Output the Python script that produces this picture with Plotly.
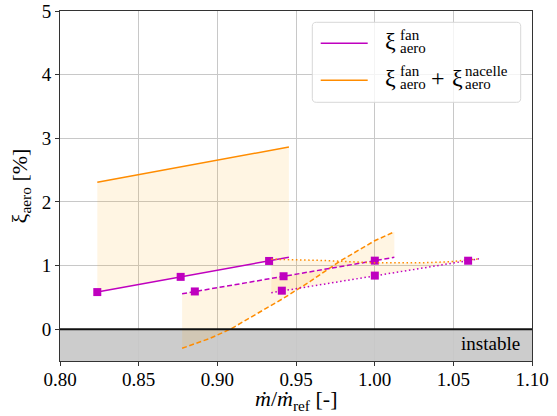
import plotly.graph_objects as go

# ---------------- data ----------------
# operating line 1 (solid)
op1_meas_x = [0.8237, 0.8767, 0.9329]
op1_meas_y = [0.583, 0.822, 1.072]
op1_fan_x = [0.8237, 0.9455]
op1_fan_y = [0.585, 1.130]
op1_tot_x = [0.8237, 0.9455]
op1_tot_y = [2.31, 2.862]

# operating line 2 (dashed)
op2_meas_x = [0.8857, 0.9421, 1.0001]
op2_meas_y = [0.593, 0.832, 1.077]
op2_fan_x = [0.8776, 1.0125]
op2_fan_y = [0.557, 1.129]
op2_tot_x = [0.8776, 0.8953, 0.909, 0.927, 0.9423, 0.959, 0.978, 1.0, 1.0125]
op2_tot_y = [-0.30, -0.145, 0.01, 0.27, 0.49, 0.75, 1.07, 1.39, 1.53]

# operating line 3 (dotted)
op3_meas_x = [0.941, 1.0001, 1.0594]
op3_meas_y = [0.605, 0.842, 1.076]
op3_fan_x = [0.9343, 1.0663]
op3_fan_y = [0.573, 1.105]
op3_tot_x = [0.9343, 0.9694, 1.0, 1.0287, 1.0477, 1.0663]
op3_tot_y = [1.10, 1.078, 1.042, 1.042, 1.06, 1.105]

x_ticks = [0.80, 0.85, 0.90, 0.95, 1.00, 1.05, 1.10]
y_ticks = [0, 1, 2, 3, 4, 5]

legend_fan = ("ξ", "fan", "aero")
legend_nac = ("ξ", "nacelle", "aero")
instable_label = "instable"
x_title = "<i>ṁ</i>/<i>ṁ</i><sub>ref</sub> [-]"
y_title = "ξ<sub>aero</sub> [%]"

# ---------------- style ----------------
MAG = "#bf00bf"
ORA = "#ff8c00"
FILL = "rgba(255,165,0,0.11)"
FONT = "Liberation Serif, Times New Roman, Tinos, DejaVu Serif, serif"
W, H = 557, 416
ML, MR, MT, MB = 60, 25, 11, 55
PW, PH = W - ML - MR, H - MT - MB


def px(x):
    return (x - ML) / PW


def py(y):
    return (H - MB - y) / PH


fig = go.Figure()

ops = [
    (op1_meas_x, op1_meas_y, op1_fan_x, op1_fan_y, op1_tot_x, op1_tot_y, "solid"),
    (op2_meas_x, op2_meas_y, op2_fan_x, op2_fan_y, op2_tot_x, op2_tot_y, "5px,2.6px"),
    (op3_meas_x, op3_meas_y, op3_fan_x, op3_fan_y, op3_tot_x, op3_tot_y, "1.5px,2.6px"),
]

# fills
for mx, my, fx, fy, tx, ty, dash in ops:
    fig.add_trace(go.Scatter(
        x=list(fx) + list(tx)[::-1], y=list(fy) + list(ty)[::-1],
        fill="toself", fillcolor=FILL, mode="none",
        showlegend=False, hoverinfo="skip"))

for mx, my, fx, fy, tx, ty, dash in ops:
    fig.add_trace(go.Scatter(x=tx, y=ty, mode="lines",
                             line=dict(color=ORA, width=1.5, dash=dash),
                             showlegend=False))
    fig.add_trace(go.Scatter(x=fx, y=fy, mode="lines",
                             line=dict(color=MAG, width=1.5, dash=dash),
                             showlegend=False))
    fig.add_trace(go.Scatter(x=mx, y=my, mode="markers",
                             marker=dict(symbol="square", size=8, color=MAG,
                                         line=dict(width=0)),
                             showlegend=False))

# rounded legend box path (pixel coords -> paper)
bx0, bx1, by0, by1, r = 312.3, 520.7, 22.3, 102.3, 4
def P(x, y):
    return f"{px(x):.5f},{py(y):.5f}"
legend_path = (f"M{P(bx0 + r, by0)} L{P(bx1 - r, by0)} Q{P(bx1, by0)} {P(bx1, by0 + r)} "
               f"L{P(bx1, by1 - r)} Q{P(bx1, by1)} {P(bx1 - r, by1)} "
               f"L{P(bx0 + r, by1)} Q{P(bx0, by1)} {P(bx0, by1 - r)} "
               f"L{P(bx0, by0 + r)} Q{P(bx0, by0)} {P(bx0 + r, by0)} Z")

shapes = [
    dict(type="rect", xref="paper", yref="y", x0=0, x1=1, y0=-0.5, y1=0,
         fillcolor="#cccccc", line=dict(width=0), layer="below"),
    dict(type="line", xref="paper", yref="y", x0=0, x1=1, y0=0, y1=0,
         line=dict(color="#111111", width=2), layer="above"),
    dict(type="path", xref="paper", yref="paper", path=legend_path,
         fillcolor="rgba(255,255,255,0.8)", line=dict(color="#d8d8d8", width=1),
         layer="above"),
    dict(type="line", xref="paper", yref="paper", x0=px(320.7), x1=px(367.7),
         y0=py(43.3), y1=py(43.3), line=dict(color=MAG, width=1.5), layer="above"),
    dict(type="line", xref="paper", yref="paper", x0=px(320.7), x1=px(367.7),
         y0=py(80.3), y1=py(80.3), line=dict(color=ORA, width=1.5), layer="above"),
]

BIG, SMALL = 24, 15


def ann(text, x, y, size, xanchor="left"):
    return dict(text=text, xref="paper", yref="paper", x=px(x), y=py(y),
                xanchor=xanchor, yanchor="middle", showarrow=False,
                font=dict(family=FONT, size=size, color="black"))


annotations = [
    ann(legend_fan[0], 383, 41, BIG),
    ann(legend_fan[1], 397.5, 34.5, SMALL),
    ann(legend_fan[2], 397.5, 47.5, SMALL),
    ann(legend_fan[0], 383, 78, BIG),
    ann(legend_fan[1], 397.5, 71.5, SMALL),
    ann(legend_fan[2], 397.5, 84.5, SMALL),
    ann("+", 437.5, 78, BIG, "center"),
    ann(legend_nac[0], 449.5, 78, BIG),
    ann(legend_nac[1], 462.5, 71.5, SMALL),
    ann(legend_nac[2], 462.5, 84.5, SMALL),
    dict(text=instable_label, xref="x", yref="y", x=1.0935, y=-0.225,
         xanchor="right", yanchor="middle", showarrow=False,
         font=dict(family=FONT, size=19, color="black")),
    dict(text=x_title, xref="paper", yref="paper", x=0.5, y=py(400),
         xanchor="center", yanchor="middle", showarrow=False,
         font=dict(family=FONT, size=22, color="black")),
]

axis_common = dict(showline=True, linecolor="#333333", linewidth=1, mirror=True,
                   ticks="outside", ticklen=4, tickcolor="#333333",
                   showgrid=True, gridcolor="#c8c8c8", gridwidth=1,
                   zeroline=False, automargin=False,
                   tickfont=dict(family=FONT, size=19, color="black"))

fig.update_layout(
    width=W, height=H,
    margin=dict(l=ML, r=MR, t=MT, b=MB),
    plot_bgcolor="white", paper_bgcolor="white",
    showlegend=False,
    shapes=shapes, annotations=annotations,
    xaxis=dict(range=[0.8, 1.1], tickvals=x_ticks,
               ticktext=[f"{v:.2f}" for v in x_ticks],
               ticklabelstandoff=-3,
               **axis_common),
    yaxis=dict(range=[-0.5, 5], tickvals=y_ticks,
               title=dict(text=y_title,
                          font=dict(family=FONT, size=22, color="black"),
                          standoff=8),
               **axis_common),
)

fig.write_html("out.html",
               config={"displayModeBar": False},
               post_script="document.body.style.margin='0';"
                           "document.body.style.overflow='hidden';")
